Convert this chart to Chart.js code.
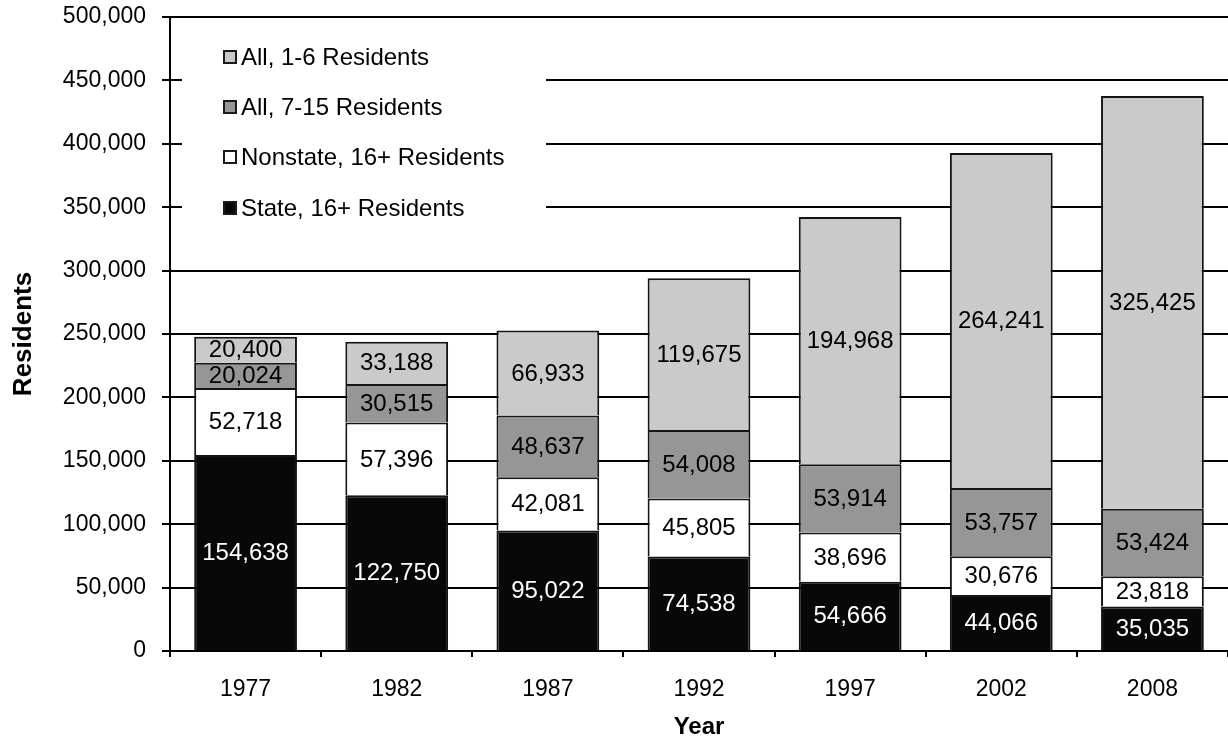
<!DOCTYPE html>
<html>
<head>
<meta charset="utf-8">
<script src="https://cdn.jsdelivr.net/npm/chart.js@4"></script>
<style>
  html, body { margin: 0; padding: 0; background: #fff; }
  #wrap { width: 1228px; height: 738px; }
</style>
</head>
<body>
<div id="wrap"><canvas id="grafico" width="1228" height="738"></canvas></div>
<script>
// values
const anos = ["1977", "1982", "1987", "1992", "1997", "2002", "2008"];
const estadual16 = [154638, 122750, 95022, 74538, 54666, 44066, 35035];
const naoEstadual16 = [52718, 57396, 42081, 45805, 38696, 30676, 23818];
const todos7a15 = [20024, 30515, 48637, 54008, 53914, 53757, 53424];
const todos1a6 = [20400, 33188, 66933, 119675, 194968, 264241, 325425];
const rotulos = ["State, 16+ Residents", "Nonstate, 16+ Residents", "All, 7-15 Residents", "All, 1-6 Residents"];
const cores = ["#080808", "#ffffff", "#969696", "#cacaca"];

const fonte = "'Liberation Sans', Arial, sans-serif";

function fmt(v) {
    return v.toLocaleString("en-US");
}

// numbers inside each segment
const rotulosBarras = {
    id: "rotulosBarras",
    afterDatasetsDraw(chart) {
        const ctx = chart.ctx;
        ctx.save();
        ctx.font = "24px " + fonte;
        ctx.textAlign = "center";
        ctx.textBaseline = "middle";
        chart.data.datasets.forEach((ds, i) => {
            const meta = chart.getDatasetMeta(i);
            meta.data.forEach((bar, j) => {
                const yc = (bar.y + bar.base) / 2;
                ctx.fillStyle = i === 0 ? "#ffffff" : "#000000";
                ctx.fillText(fmt(ds.data[j]), bar.x, yc + 1);
            });
        });
        ctx.restore();
    }
};

// legend box sitting inside the plot, top left
const legendaInterna = {
    id: "legendaInterna",
    afterDatasetsDraw(chart) {
        const ctx = chart.ctx;
        ctx.save();
        ctx.fillStyle = "#ffffff";
        ctx.fillRect(182, 26, 364, 218);
        ctx.font = "24px " + fonte;
        ctx.textAlign = "left";
        ctx.textBaseline = "middle";
        const ys = [57, 107, 157, 208];
        for (let k = 0; k < 4; k++) {
            const i = 3 - k;
            ctx.fillStyle = "#1a1a1a";
            ctx.fillRect(223, ys[k] - 7, 14, 14);
            ctx.fillStyle = cores[i];
            ctx.fillRect(225, ys[k] - 5, 10, 10);
            ctx.fillStyle = "#000000";
            ctx.fillText(rotulos[i], 241, ys[k] + 1);
        }
        ctx.restore();
    }
};

function desenharGrafico() {
    const ctx = document.getElementById("grafico").getContext("2d");
    const series = [estadual16, naoEstadual16, todos7a15, todos1a6];

    new Chart(ctx, {
        type: "bar",
        data: {
            labels: anos,
            datasets: series.map((s, i) => ({
                label: rotulos[i],
                data: s,
                backgroundColor: cores[i],
                borderColor: "#141414",
                borderWidth: 2,
                barPercentage: 0.68,
                categoryPercentage: 1
            }))
        },
        options: {
            responsive: false,
            animation: false,
            layout: { padding: { top: 17, right: 0, bottom: 0, left: 0 } },
            plugins: {
                legend: { display: false },
                tooltip: { enabled: false }
            },
            scales: {
                x: {
                    stacked: true,
                    afterFit: (s) => { s.height = 87; },
                    border: { color: "#000", width: 2 },
                    grid: {
                        drawOnChartArea: false,
                        color: "#000",
                        lineWidth: 2,
                        tickLength: 6
                    },
                    ticks: {
                        color: "#000",
                        padding: 19,
                        font: { family: fonte, size: 23 }
                    },
                    title: {
                        display: true,
                        text: "Year",
                        color: "#000",
                        padding: 0,
                        font: { family: fonte, size: 24, weight: "bold", lineHeight: 0.9 }
                    }
                },
                y: {
                    stacked: true,
                    min: 0,
                    max: 500000,
                    afterFit: (s) => { s.width = 170; s.paddingTop = 0; s.paddingBottom = 0; },
                    border: { color: "#000", width: 2 },
                    grid: {
                        color: "#000",
                        lineWidth: 2,
                        tickLength: 8
                    },
                    ticks: {
                        stepSize: 50000,
                        color: "#000",
                        padding: 16,
                        font: { family: fonte, size: 23 },
                        callback: (v) => fmt(v)
                    },
                    title: {
                        display: true,
                        text: "Residents",
                        color: "#000",
                        padding: { top: 8, bottom: 0 },
                        font: { family: fonte, size: 26, weight: "bold" }
                    }
                }
            }
        },
        plugins: [rotulosBarras, legendaInterna]
    });
}

desenharGrafico();
</script>
</body>
</html>
